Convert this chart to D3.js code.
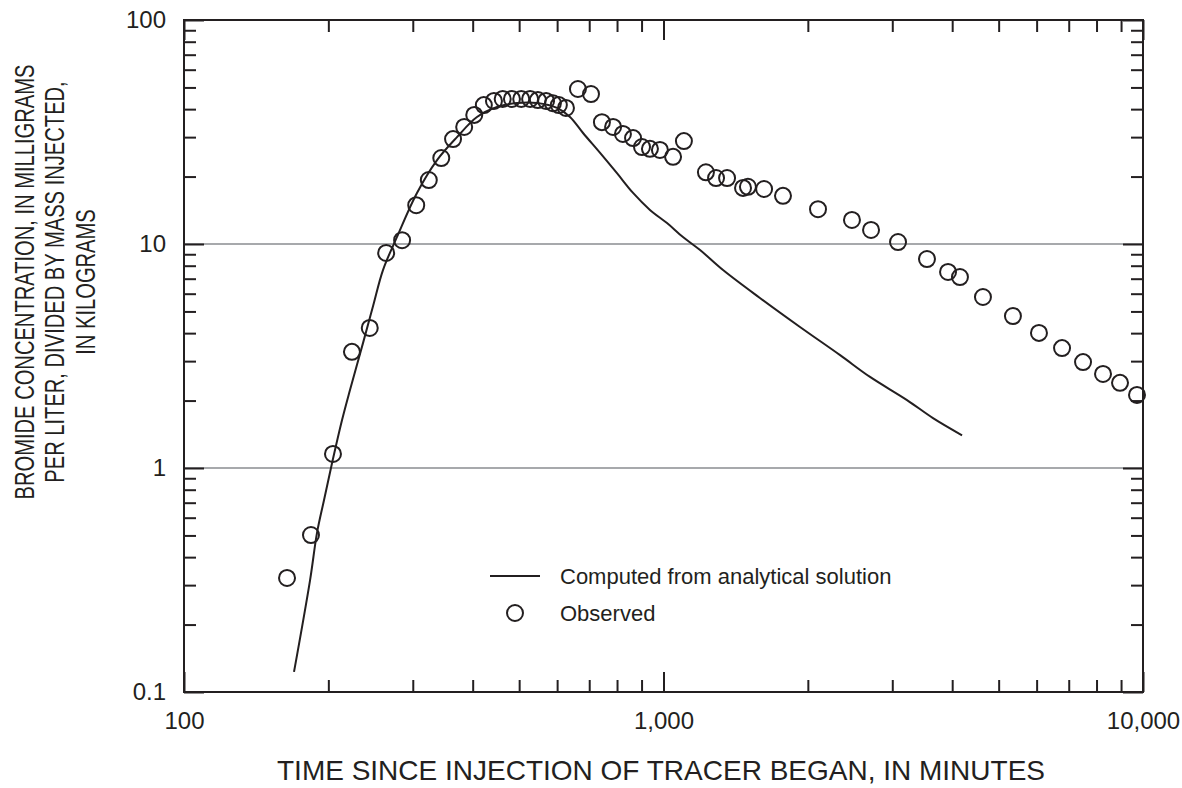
<!DOCTYPE html>
<html>
<head>
<meta charset="utf-8">
<script src="https://cdn.jsdelivr.net/npm/d3@7"></script>
<style>
  html, body { margin: 0; padding: 0; background: #fff; }
  svg { display: block; font-family: "Liberation Sans", Arial, Helvetica, sans-serif; }
</style>
</head>
<body>
<svg id="chart" width="1182" height="788"></svg>
<script>
// Observed bromide concentrations (mg/L per kg injected) versus time (minutes)
const obsTime = [164, 184, 204.5, 224, 244, 264, 285, 305, 324, 344, 364, 384, 403, 422, 443, 462, 483, 505, 527, 547, 569, 588, 605, 626, 663, 706, 744, 785, 823, 864, 902, 937, 983, 1047, 1103, 1226, 1287, 1357, 1465, 1500, 1621, 1775, 2100, 2472, 2709, 3084, 3544, 3921, 4152, 4637, 5355, 6068, 6779, 7498, 8253, 8955, 9716];
const obsConc = [0.323, 0.502, 1.155, 3.30, 4.22, 9.12, 10.4, 14.9, 19.3, 24.2, 29.4, 33.3, 37.7, 41.7, 43.5, 44.4, 44.4, 44.4, 44.4, 43.9, 43.5, 42.5, 41.7, 40.5, 49.2, 46.7, 35.0, 33.3, 31.0, 29.7, 27.1, 26.6, 26.3, 24.5, 28.8, 20.9, 19.7, 19.7, 17.8, 18.0, 17.6, 16.4, 14.3, 12.8, 11.55, 10.2, 8.57, 7.50, 7.12, 5.80, 4.77, 4.01, 3.43, 2.97, 2.63, 2.40, 2.12];

// Curve computed from the analytical solution
const modelTime = [169.6, 183.2, 189.4, 195.9, 203.6, 213.6, 221.9, 236.2, 248.0, 260.0, 278.1, 306.1, 337.1, 370.9, 408.3, 449.6, 495.0, 544.8, 599.8, 638.3, 679.5, 737.5, 799.8, 864, 937, 1017, 1098, 1192, 1331, 1589, 1926, 2335, 2696, 3220, 3648, 4194];
const modelConc = [0.123, 0.316, 0.513, 0.720, 1.053, 1.638, 2.23, 3.61, 5.30, 7.65, 10.75, 16.9, 23.7, 30.0, 36.9, 40.9, 42.6, 42.6, 40.5, 36.9, 31.3, 25.5, 20.7, 16.9, 14.2, 12.4, 10.75, 9.40, 7.65, 5.74, 4.26, 3.19, 2.55, 2.01, 1.67, 1.40];

// Axis ticks and labels
const xMajor = [100, 1000, 10000];
const xLabels = ["100", "1,000", "10,000"];
const yMajor = [0.1, 1, 10, 100];
const yLabels = ["0.1", "1", "10", "100"];
const gridValues = [1, 10];

const yTitleLines = ["BROMIDE CONCENTRATION, IN MILLIGRAMS", "PER LITER, DIVIDED BY MASS INJECTED,", "IN KILOGRAMS"];
const xTitle = "TIME SINCE INJECTION OF TRACER BEGAN, IN MINUTES";
const legendLabels = ["Computed from analytical solution", "Observed"];

const margin = { left: 184, top: 20, right: 39, bottom: 96 };
const W = 1182, H = 788;
const iw = W - margin.left - margin.right;
const ih = H - margin.top - margin.bottom;

const svg = d3.select("#chart");
const g = svg.append("g").attr("transform", `translate(${margin.left},${margin.top})`);

const x = d3.scaleLog().domain([100, 10000]).range([0, iw]);
const y = d3.scaleLog().domain([0.1, 100]).range([ih, 0]);

const ink = "#231f20";

// Horizontal grid lines at 1 and 10
g.append("g").selectAll("line").data(gridValues).join("line")
  .attr("x1", 0).attr("x2", iw)
  .attr("y1", d => y(d)).attr("y2", d => y(d))
  .attr("stroke", "#a7a9ac").attr("stroke-width", 2);

// Minor ticks from the log scales' own tick generators
const xMinor = x.ticks().filter(v => !xMajor.includes(v));
const yMinor = y.ticks().filter(v => !yMajor.includes(v));

function styleAxis(sel) {
  sel.select(".domain").remove();
  sel.selectAll(".tick line").attr("stroke", ink).attr("stroke-width", 2);
}

// Minor ticks pointing into the plot on all four sides
g.append("g").attr("transform", `translate(0,${ih})`)
  .call(d3.axisBottom(x).tickValues(xMinor).tickSize(-12).tickFormat(""))
  .call(styleAxis);
g.append("g")
  .call(d3.axisTop(x).tickValues(xMinor).tickSize(-12).tickFormat(""))
  .call(styleAxis);
g.append("g")
  .call(d3.axisLeft(y).tickValues(yMinor).tickSize(-12).tickFormat(""))
  .call(styleAxis);
g.append("g").attr("transform", `translate(${iw},0)`)
  .call(d3.axisRight(y).tickValues(yMinor).tickSize(-12).tickFormat(""))
  .call(styleAxis);

// Major ticks with labels
const xAxis = g.append("g").attr("transform", `translate(0,${ih})`)
  .call(d3.axisBottom(x).tickValues(xMajor).tickSize(-20).tickPadding(20)
    .tickFormat((d, i) => xLabels[i]))
  .call(styleAxis);
xAxis.selectAll("text").attr("fill", ink).style("font-size", "24px")
  .style("font-family", "'Liberation Sans', Arial, sans-serif");

g.append("g")
  .call(d3.axisTop(x).tickValues(xMajor).tickSize(-20).tickFormat(""))
  .call(styleAxis);

const yAxis = g.append("g")
  .call(d3.axisLeft(y).tickValues(yMajor).tickSize(-20).tickPadding(18)
    .tickFormat((d, i) => yLabels[i]))
  .call(styleAxis);
yAxis.selectAll("text").attr("fill", ink).style("font-size", "24px")
  .style("font-family", "'Liberation Sans', Arial, sans-serif");

g.append("g").attr("transform", `translate(${iw},0)`)
  .call(d3.axisRight(y).tickValues(yMajor).tickSize(-20).tickFormat(""))
  .call(styleAxis);

// Plot frame
g.append("rect").attr("x", 0).attr("y", 0).attr("width", iw).attr("height", ih)
  .attr("fill", "none").attr("stroke", ink).attr("stroke-width", 2);

// Analytical solution curve
const modelData = modelTime.map((t, i) => [t, modelConc[i]]);
g.append("path").datum(modelData)
  .attr("d", d3.line().x(d => x(d[0])).y(d => y(d[1])).curve(d3.curveCatmullRom.alpha(0.5)))
  .attr("fill", "none").attr("stroke", ink).attr("stroke-width", 2);

// Observed values as open circles
const obsData = obsTime.map((t, i) => [t, obsConc[i]]);
g.append("g").selectAll("circle").data(obsData).join("circle")
  .attr("cx", d => x(d[0])).attr("cy", d => y(d[1])).attr("r", 8)
  .attr("fill", "none").attr("stroke", ink).attr("stroke-width", 2);

// Legend
const lg = svg.append("g").attr("transform", "translate(490,576)");
lg.append("line").attr("x1", 0).attr("x2", 50).attr("y1", 0).attr("y2", 0)
  .attr("stroke", ink).attr("stroke-width", 2);
lg.append("circle").attr("cx", 25).attr("cy", 37).attr("r", 8)
  .attr("fill", "none").attr("stroke", ink).attr("stroke-width", 2);
lg.selectAll("text").data(legendLabels).join("text")
  .attr("x", 70).attr("y", (d, i) => i * 37 + 8)
  .attr("fill", ink).style("font-size", "22px")
  .text(d => d);

// Axis titles
svg.append("text")
  .attr("x", 661).attr("y", 780)
  .attr("text-anchor", "middle").attr("fill", ink)
  .style("font-size", "28px")
  .text(xTitle);

// Vertical title: three lines, condensed along the reading direction
const yt = svg.append("g").attr("transform", "translate(0,282) rotate(-90) scale(0.72,1)");
yt.selectAll("text").data(yTitleLines).join("text")
  .attr("x", 0).attr("y", (d, i) => 34 + i * 30.5)
  .attr("text-anchor", "middle").attr("fill", ink)
  .style("font-size", "28px")
  .text(d => d);
</script>
</body>
</html>
